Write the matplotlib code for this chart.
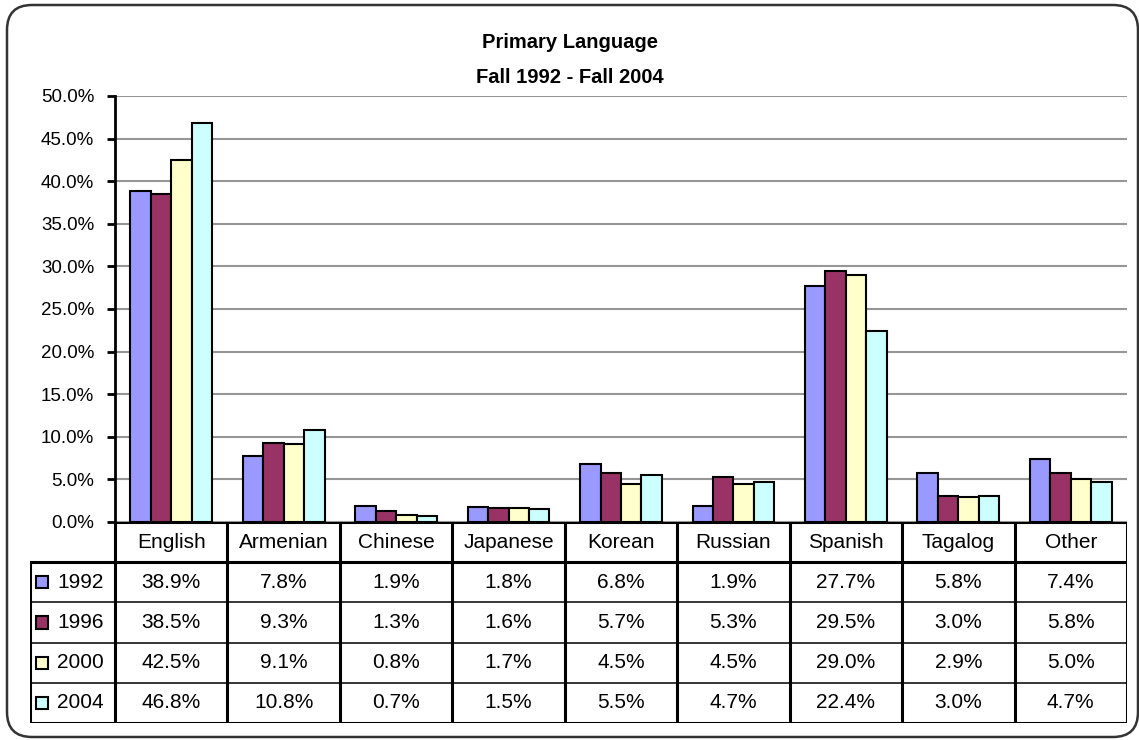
import matplotlib.pyplot as plt
from matplotlib import font_manager
from matplotlib.patches import FancyBboxPatch, Rectangle
from matplotlib.ticker import FuncFormatter, MultipleLocator

plt.rcParams['font.family'] = ['Liberation Sans', 'DejaVu Sans']

# narrow face for the title and axis labels, if it is there
installed = {f.name for f in font_manager.fontManager.ttflist}
has_narrow = 'Liberation Sans Narrow' in installed
narrow = ['Liberation Sans Narrow', 'Liberation Sans'] if has_narrow else ['Liberation Sans']
title_size = 18 if has_narrow else 14.5
ytick_size = 15 if has_narrow else 13.5

# data
languages = ['English', 'Armenian', 'Chinese', 'Japanese', 'Korean',
             'Russian', 'Spanish', 'Tagalog', 'Other']
years = ['1992', '1996', '2000', '2004']
pct_1992 = [38.9, 7.8, 1.9, 1.8, 6.8, 1.9, 27.7, 5.8, 7.4]
pct_1996 = [38.5, 9.3, 1.3, 1.6, 5.7, 5.3, 29.5, 3.0, 5.8]
pct_2000 = [42.5, 9.1, 0.8, 1.7, 4.5, 4.5, 29.0, 2.9, 5.0]
pct_2004 = [46.8, 10.8, 0.7, 1.5, 5.5, 4.7, 22.4, 3.0, 4.7]
series = [pct_1992, pct_1996, pct_2000, pct_2004]
colors = ['#9999FF', '#993366', '#FFFFCC', '#CCFFFF']

W, H = 1139, 740
fig = plt.figure(figsize=(W / 100, H / 100), dpi=100)

# rounded frame around the whole chart
frame = FancyBboxPatch((0.07, 0.03), 11.31, 7.32,
                       boxstyle='round,pad=0,rounding_size=0.25',
                       transform=fig.dpi_scale_trans, fill=False,
                       edgecolor='#333333', linewidth=1.8)
fig.patches.append(frame)

# pixel layout
ax_left, ax_right, ax_top, ax_bottom = 115, 1127, 96, 522
tab_left, tab_bottom = 30, 723

ax = fig.add_axes([ax_left / W, 1 - ax_bottom / H,
                   (ax_right - ax_left) / W, (ax_bottom - ax_top) / H])
n = len(languages)
bw = 0.182
for k, vals in enumerate(series):
    xs = [i + (k - 1.5) * bw for i in range(n)]
    ax.bar(xs, [v / 100 for v in vals], width=bw, color=colors[k],
           edgecolor='black', linewidth=1.5, zorder=3)

ax.set_xlim(-0.5, n - 0.5)
ax.set_ylim(0, 0.5)
ax.yaxis.set_major_locator(MultipleLocator(0.05))
ax.yaxis.set_major_formatter(FuncFormatter(lambda v, p: f'{v * 100:.1f}%'))
ax.grid(axis='y', color='#969696', linewidth=1.5, zorder=0)
ax.set_xticks([])
for s in ['top', 'right', 'bottom']:
    ax.spines[s].set_visible(False)
ax.spines['left'].set_linewidth(2)
ax.tick_params(axis='y', length=6, width=2, pad=9)
for lab in ax.get_yticklabels():
    lab.set_family(narrow)
    lab.set_fontsize(ytick_size)

fig.text(0.5, 1 - 48 / H, 'Primary Language', ha='center', va='baseline',
         fontsize=title_size, fontweight='bold', family=narrow)
fig.text(0.5, 1 - 83 / H, 'Fall 1992 - Fall 2004', ha='center', va='baseline',
         fontsize=title_size, fontweight='bold', family=narrow)

# data table under the plot, columns aligned with the categories
col_px = (ax_right - ax_left) / n
label_w = (ax_left - tab_left) / col_px
tax = fig.add_axes([tab_left / W, 1 - tab_bottom / H,
                    (ax_right - tab_left) / W, (tab_bottom - ax_bottom) / H])
tax.set_xlim(-0.5 - label_w, n - 0.5)
tax.set_ylim(0, 5)
tax.axis('off')
x0 = -0.5 - label_w
xr = n - 0.5

thick = dict(color='black', linewidth=2.2, solid_capstyle='projecting')
thin = dict(color='black', linewidth=1.1)
tax.plot([-0.5, xr], [5, 5], **thick)
tax.plot([x0, xr], [0, 0], **thick)
tax.plot([x0, xr], [4, 4], **thick)
tax.plot([x0, x0], [0, 4], **thick)
tax.plot([xr, xr], [0, 5], **thick)
for i in range(n):
    tax.plot([i - 0.5, i - 0.5], [0, 5], **thick)
for r in (1, 2, 3):
    tax.plot([x0, xr], [r, r], **thin)

for i, lang in enumerate(languages):
    tax.text(i, 4.5, lang, ha='center', va='center', fontsize=15)

key_w = 12 / col_px
for k, (yr, vals) in enumerate(zip(years, series)):
    yc = 3.5 - k
    tax.add_patch(Rectangle((x0 + 6 / col_px, yc - 0.15), key_w, 0.30,
                            facecolor=colors[k], edgecolor='black',
                            linewidth=1.5))
    tax.text(x0 + 27 / col_px, yc, yr, ha='left', va='center', fontsize=15)
    for i, v in enumerate(vals):
        tax.text(i, yc, f'{v:.1f}%', ha='center', va='center', fontsize=15)

fig.savefig('out.png', dpi=100)
